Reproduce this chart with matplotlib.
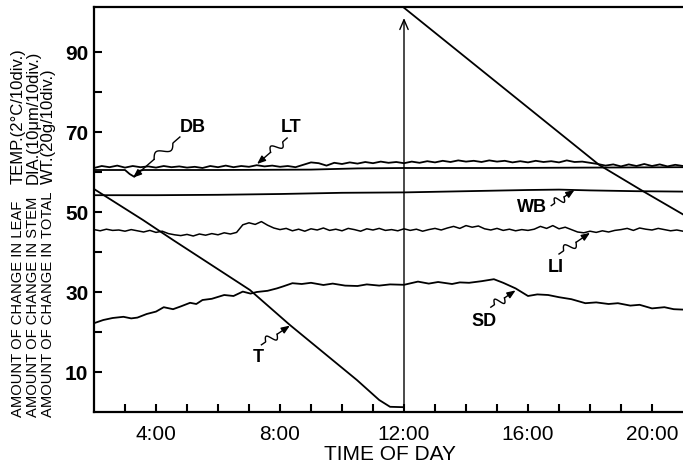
import numpy as np
import matplotlib
matplotlib.use("Agg")
import matplotlib.pyplot as plt
from matplotlib.ticker import FixedLocator

plt.rcParams['font.family'] = ['Liberation Sans', 'DejaVu Sans']

# ---- data ----
# LT : leaf temperature
lt_hours = np.arange(2.0, 21.01, 0.25)
lt_vals = [61.0, 61.5, 61.2, 61.6, 61.1, 61.5, 61.2, 61.4,
           61.1, 61.5, 61.2, 61.4, 61.1, 61.3, 61.0, 61.5,
           61.2, 61.6, 61.2, 61.5, 61.3, 61.7, 61.4, 61.6,
           61.3, 61.5, 61.2, 61.8, 62.4, 62.2, 61.6, 62.3,
           62.0, 62.4, 62.1, 62.5, 62.2, 62.6, 62.3, 62.5,
           62.2, 62.6, 62.3, 62.7, 62.4, 62.8, 62.5, 62.9,
           62.6, 62.8, 62.5, 62.9, 62.6, 62.8, 62.4, 62.7,
           62.4, 62.8, 62.5, 62.7, 62.4, 62.9, 62.5, 62.6,
           62.3, 62.0, 61.6, 61.9, 61.4, 61.9, 61.5, 62.0,
           61.5, 61.9, 61.4, 61.8, 61.5]

# DB : dry bulb
db_hours = [2.0, 3.0, 3.15, 3.3, 3.45, 3.6, 6.0, 9.0, 10.5, 12.0, 15.0, 18.0, 21.0]
db_vals = [60.5, 60.5, 59.5, 58.8, 60.3, 60.5, 60.5, 60.6, 60.9, 61.0, 61.0, 61.1, 61.2]

# WB : wet bulb
wb_hours = [2.0, 4.0, 6.0, 8.0, 10.0, 12.0, 14.0, 16.0, 17.0, 18.0, 19.5, 21.0]
wb_vals = [54.2, 54.2, 54.3, 54.5, 54.8, 54.9, 55.2, 55.5, 55.6, 55.4, 55.2, 55.1]

# LI : total weight (noisy trace)
li_hours = np.arange(2.0, 21.01, 0.2)
li_vals = [45.6, 45.3, 45.7, 45.4, 45.5, 45.2, 45.6, 45.3,
           45.0, 45.4, 44.9, 45.2, 44.6, 44.3,
           44.1, 44.4, 44.0, 44.5, 44.2, 44.6, 44.3, 44.8, 44.5, 44.9,
           46.8, 47.3, 46.9, 47.6, 46.7, 46.0,
           45.6, 45.9, 45.3, 45.7, 45.2, 45.8, 45.5, 46.0, 45.4,
           45.7, 45.3, 45.9, 45.6, 45.2, 45.8, 45.5, 45.9, 45.4,
           45.6, 45.3, 45.8, 45.4, 45.7, 45.2, 45.6, 45.9, 45.5,
           46.0, 46.4, 45.9, 46.6, 46.2, 46.5,
           45.8, 45.5, 45.9, 45.4, 45.7, 45.3, 45.6, 45.4,
           45.7, 46.4, 45.9, 46.6, 45.8, 46.2, 45.6,
           45.0, 44.8, 45.2, 44.9, 45.3, 45.0, 45.4,
           45.6, 45.9, 45.4, 46.0, 45.7, 45.5, 45.9, 45.6, 45.3, 45.5, 45.2]

# SD : stem diameter
sd_hours = [2.0, 2.3, 2.6, 2.95, 3.2, 3.4, 3.7, 4.0, 4.25, 4.55, 4.8, 5.1, 5.3, 5.5,
            5.8, 6.2, 6.5, 6.8, 7.05, 7.25, 7.6, 7.9, 8.1, 8.4, 8.7, 9.0, 9.4, 9.7,
            10.1, 10.5, 10.8, 11.2, 11.55, 12.0, 12.45, 12.8, 13.1, 13.55, 13.8,
            14.1, 14.5, 14.9, 15.2, 15.6, 16.0, 16.3, 16.65, 17.0, 17.4, 17.85,
            18.2, 18.6, 18.9, 19.3, 19.6, 20.0, 20.4, 20.7, 21.0]
sd_vals = [22.2, 23.0, 23.5, 23.8, 23.4, 23.6, 24.5, 25.1, 26.2, 25.7, 26.4, 27.3, 27.0, 28.0,
           28.3, 29.25, 29.0, 30.1, 29.6, 30.0, 30.3, 30.9, 31.4, 32.2, 32.0, 32.3, 31.75, 32.1,
           31.6, 31.5, 31.9, 31.6, 31.9, 31.8, 32.6, 32.1, 32.5, 32.0, 32.4,
           32.3, 32.7, 33.2, 32.3, 30.9, 29.0, 29.4, 29.25, 28.7, 28.2, 27.2,
           27.4, 27.0, 27.2, 26.6, 26.8, 25.9, 26.2, 25.7, 25.6]

# T : timer / sweep trace (two segments, reset at 12:00)
t1_hours = [2.0, 3.58, 4.55, 7.03, 8.32, 10.48, 11.2, 11.55, 12.0]
t1_vals = [55.75, 48.0, 43.0, 30.5, 21.75, 8.0, 3.0, 1.3, 1.2]
t2_hours = [11.97, 18.3, 19.7, 21.0]
t2_vals = [101.25, 61.75, 55.25, 49.4]

xticks = [4, 8, 12, 16, 20]
xticklabels = ['4:00', '8:00', '12:00', '16:00', '20:00']
yticks = [10, 30, 50, 70, 90]

W, H = 683, 462
fig = plt.figure(figsize=(W / 100, H / 100), dpi=100)
ax = fig.add_axes([94 / W, (H - 412) / H, (W - 94) / W, (412 - 7) / H])

lw = 1.3
ax.plot(lt_hours, lt_vals, color='black', lw=lw)
ax.plot(db_hours, db_vals, color='black', lw=lw)
ax.plot(wb_hours, wb_vals, color='black', lw=lw)
ax.plot(li_hours, li_vals, color='black', lw=1.1)
ax.plot(sd_hours, sd_vals, color='black', lw=lw)
ax.plot(t1_hours, t1_vals, color='black', lw=lw)
ax.plot(t2_hours, t2_vals, color='black', lw=lw)

# reset arrow at 12:00
ax.annotate('', xy=(12.0, 98.5), xytext=(12.0, t1_vals[-1]),
            arrowprops=dict(arrowstyle='->,head_length=0.7,head_width=0.3',
                            lw=1.0, color='black', shrinkA=0, shrinkB=0))

ax.set_xlim(2, 2 + (W - 94) / 31.0)
ax.set_ylim(0, 101.25)

ax.spines['right'].set_visible(False)
for s in ['left', 'bottom', 'top']:
    ax.spines[s].set_linewidth(1.6)

ax.set_xticks(xticks)
ax.set_xticklabels(xticklabels)
ax.xaxis.set_minor_locator(FixedLocator([h for h in range(3, 21) if h not in xticks]))
ax.set_yticks(yticks)
ax.yaxis.set_minor_locator(FixedLocator([20, 40, 60, 80]))
ax.tick_params(which='both', direction='in', length=6, width=1.5, top=False, right=False)
ax.tick_params(axis='x', which='major', pad=9, labelsize=15)
ax.tick_params(axis='y', which='major', pad=4, labelsize=15)
for t in ax.get_yticklabels():
    t.set_fontweight('bold')


def squiggle(x0, y0, x1, y1):
    # wavy leader from label to curve, arrowhead at the curve
    p0 = ax.transData.transform((x0, y0))
    p1 = ax.transData.transform((x1, y1))
    d = p1 - p0
    n = np.array([-d[1], d[0]]) / np.hypot(*d)
    s = np.linspace(0, 0.55, 30)
    wig = np.where((s > 0.15), 4.5 * np.sin((s - 0.15) / 0.4 * 2 * np.pi), 0)
    pts = p0 + np.outer(s, d) + np.outer(wig, n)
    pts = ax.transData.inverted().transform(pts)
    ax.plot(pts[:, 0], pts[:, 1], color='black', lw=1.0)
    ax.annotate('', xy=(x1, y1), xytext=tuple(pts[-1]),
                arrowprops=dict(arrowstyle='-|>,head_length=0.5,head_width=0.2',
                                lw=1.0, color='black', shrinkA=0, shrinkB=0))


lab = dict(fontsize=13, fontweight='bold', ha='center', va='center')
ax.text(5.19, 71.25, 'DB', **lab)
squiggle(4.77, 68.75, 3.26, 58.6)
ax.text(8.35, 71.25, 'LT', **lab)
squiggle(8.23, 68.5, 7.26, 62.0)
ax.text(16.13, 51.0, 'WB', **lab)
squiggle(16.75, 51.6, 17.5, 55.5)
ax.text(16.9, 36.0, 'LI', **lab)
squiggle(17.0, 39.5, 18.0, 44.8)
ax.text(14.58, 22.5, 'SD', **lab)
squiggle(14.8, 26.2, 15.6, 30.4)
ax.text(7.3, 13.6, 'T', **lab)
squiggle(7.4, 16.8, 8.32, 21.6)

fig.text(390 / W, 1 - 454 / H, 'TIME OF DAY', fontsize=15, ha='center', va='center')

ylab = [('AMOUNT OF CHANGE IN LEAF', 'TEMP.(2°C/10div.)'),
        ('AMOUNT OF CHANGE IN STEM', 'DIA.(10μm/10div.)'),
        ('AMOUNT OF CHANGE IN TOTAL', 'WT.(20g/10div.)')]
for i, (a, b) in enumerate(ylab):
    xc = (18 + 15 * i) / W
    fig.text(xc, 1 - 417 / H, a, rotation=90, ha='center', va='bottom', fontsize=10.6)
    fig.text(xc, 1 - 184 / H, b, rotation=90, ha='center', va='bottom', fontsize=12)

fig.savefig('out.png', dpi=100)
